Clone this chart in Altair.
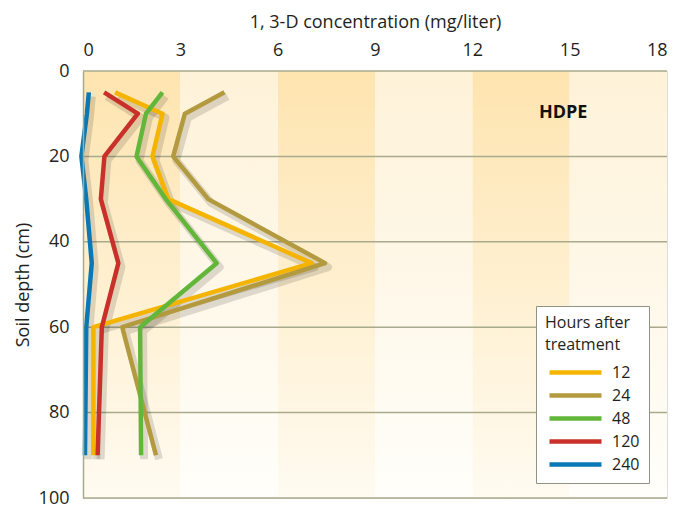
import altair as alt
import pandas as pd

depths = [5, 10, 20, 30, 45, 60, 90]
hours = ["12", "24", "48", "120", "240"]
conc_12 = [0.99, 2.45, 2.14, 2.63, 7.05, 0.32, 0.32]
conc_24 = [4.36, 3.14, 2.78, 3.86, 7.46, 1.21, 2.25]
conc_48 = [2.45, 1.94, 1.65, 2.55, 4.12, 1.76, 1.79]
conc_120 = [0.65, 1.69, 0.66, 0.55, 1.09, 0.58, 0.45]
conc_240 = [0.18, 0.12, -0.05, 0.10, 0.27, 0.10, 0.06]
colors = ["#F5B400", "#B39A3E", "#62B73A", "#C9302A", "#0A78B4"]
x_ticks = [0, 3, 6, 9, 12, 15, 18]
y_ticks = [0, 20, 40, 60, 80, 100]
dark_bands = [0, 6, 12]
light_bands = [3, 9, 15]

FONT = "Open Sans"
INK = "#231F20"
GRID = "#A7AA8C"

series = [conc_12, conc_24, conc_48, conc_120, conc_240]
rows = []
for h, vals in zip(hours, series):
    for d, v in zip(depths, vals):
        rows.append({"hours": h, "depth": d, "conc": v})
df = pd.DataFrame(rows)

xscale = alt.Scale(domain=[0, 18], nice=False, zero=False)
yscale = alt.Scale(domain=[0, 100], reverse=True, nice=False)

xaxis = alt.Axis(orient="top", values=x_ticks, title="1, 3-D concentration (mg/liter)",
                 grid=False, domain=False, ticks=False, labelPadding=12, titlePadding=10,
                 labelFontSize=18, titleFontSize=18, labelFont=FONT, titleFont=FONT,
                 labelColor=INK, titleColor=INK, titleFontWeight="normal")
yaxis = alt.Axis(orient="left", values=y_ticks, title="Soil depth (cm)", grid=False,
                 domainColor=GRID, domainWidth=1.5, ticks=False, labelPadding=14,
                 titlePadding=6, labelFontSize=18, titleFontSize=18, labelFont=FONT,
                 titleFont=FONT, labelColor=INK, titleColor=INK,
                 titleFontWeight="normal", zindex=1)

XT = "1, 3-D concentration (mg/liter)"
YT = "Soil depth (cm)"

def bands(starts, top, bottom):
    bdf = pd.DataFrame({"x0": starts, "x1": [s + 3 for s in starts],
                        "y0": [0] * len(starts), "y1": [100] * len(starts)})
    grad = {"gradient": "linear", "x1": 0, "x2": 0, "y1": 0, "y2": 1,
            "stops": [{"offset": 0, "color": top}, {"offset": 1, "color": bottom}]}
    return alt.Chart(bdf).mark_rect(color=grad, strokeWidth=0).encode(
        x=alt.X("x0:Q", scale=xscale, axis=xaxis, title=XT), x2="x1",
        y=alt.Y("y0:Q", scale=yscale, axis=yaxis, title=YT), y2="y1")

dark = bands(dark_bands, "#FEE4AF", "#FFFBF1")
light = bands(light_bands, "#FEF2D8", "#FFFEFA")

grid = alt.Chart(pd.DataFrame({"y": y_ticks})).mark_rule(color=GRID, strokeWidth=1.5).encode(
    y=alt.Y("y:Q", scale=yscale, axis=yaxis, title=YT))

shadow = alt.Chart(df).mark_line(color="#000000", opacity=0.13, strokeWidth=8, xOffset=3, yOffset=4,
                                 strokeJoin="round").encode(
    x=alt.X("conc:Q", scale=xscale, axis=xaxis, title=XT),
    y=alt.Y("depth:Q", scale=yscale, axis=yaxis, title=YT),
    detail="hours:N", order="depth:Q")

lines = alt.Chart(df).mark_line(strokeWidth=4.5, strokeJoin="round").encode(
    x=alt.X("conc:Q", scale=xscale, axis=xaxis, title=XT),
    y=alt.Y("depth:Q", scale=yscale, axis=yaxis, title=YT),
    color=alt.Color("hours:N", scale=alt.Scale(domain=hours, range=colors),
                    legend=alt.Legend(title=["Hours after", "treatment"], orient="none",
                                      legendX=453, legendY=235, fillColor="white",
                                      strokeColor="#8E9384", padding=9,
                                      symbolType="M-2.6,0L2.6,0",
                                      symbolStrokeWidth=4.5, symbolSize=400, labelFontSize=16,
                                      titleFontSize=16, titleFontWeight="normal", labelFont=FONT,
                                      titleFont=FONT, labelColor=INK, titleColor=INK,
                                      symbolOffset=18, labelOffset=24, rowPadding=1,
                                      titleLineHeight=22, titlePadding=7)),
    detail="hours:N", order="depth:Q")

label = alt.Chart(pd.DataFrame({"x": [14.8], "y": [9.8], "t": ["HDPE"]})).mark_text(
    font=FONT, fontSize=18, fontWeight="bold", color="#111111").encode(
    x=alt.X("x:Q", scale=xscale, axis=xaxis, title=XT),
    y=alt.Y("y:Q", scale=yscale, axis=yaxis, title=YT), text="t:N")

chart = alt.layer(dark, light, grid, shadow, lines, label).properties(
    width=584, height=427, padding={"left": 75, "top": 63, "right": 5, "bottom": 12},
    autosize=alt.AutoSizeParams(type="none")
).configure_view(stroke=None).configure(background="white")

chart.save("out.html", embed_options={"renderer": "svg", "actions": False})
